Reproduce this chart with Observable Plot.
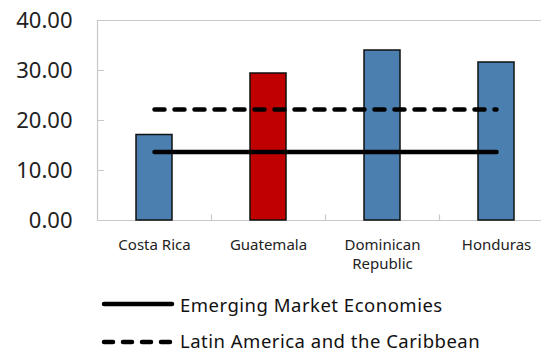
<!DOCTYPE html>
<html>
<head>
<meta charset="utf-8">
<script src="https://cdn.jsdelivr.net/npm/d3@7"></script>
<script src="https://cdn.jsdelivr.net/npm/@observablehq/plot@0.6"></script>
<style>
  html, body { margin: 0; padding: 0; background: #fff; overflow: hidden; }
  #wrap { position: relative; width: 541px; height: 352px; font-family: "Noto Sans", sans-serif; }
  #legend { position: absolute; left: 0; top: 280px; }
</style>
</head>
<body>
<div id="wrap">
  <div id="chart"></div>
  <div id="legend"></div>
</div>
<script>
const categories = ["Costa Rica", "Guatemala", "Dominican Republic", "Honduras"];
const xLabels = ["Costa Rica", "Guatemala", "Dominican\nRepublic", "Honduras"];
const values = [17.1, 29.4, 34.0, 31.6];
const barColors = ["#4A7FAF", "#C00000", "#4A7FAF", "#4A7FAF"];
const yTicks = [0, 10, 20, 30, 40];
const emeValue = 13.7;
const lacValue = 22.2;
const seriesNames = ["Emerging Market Economies", "Latin America and the Caribbean"];
const seriesDash = [null, "9,10"];

const bars = categories.map((c, i) => ({c, v: values[i], color: barColors[i]}));
const emeLine = categories.map(c => ({c, v: emeValue}));
const lacLine = categories.map(c => ({c, v: lacValue}));
const labelOf = new Map(categories.map((c, i) => [c, xLabels[i]]));

const chart = Plot.plot({
  width: 541,
  height: 278,
  marginLeft: 97,
  marginRight: 0,
  marginTop: 20,
  marginBottom: 58,
  style: {fontFamily: "Noto Sans, sans-serif", background: "#fff", overflow: "hidden"},
  x: {type: "band", domain: categories, range: [97, 553], padding: 0},
  y: {domain: [0, 40]},
  marks: [
    Plot.ruleY([40], {stroke: "#c8c8c8", strokeWidth: 1.2}),
    Plot.ruleY([0], {stroke: "#c8c8c8", strokeWidth: 1.2}),
    Plot.ruleX(categories.slice(1), {x: d => d, y1: 0, y2: 1.1, dx: -57, stroke: "#c8c8c8", strokeWidth: 1.2}),
    Plot.barY(bars, {x: "c", y: "v", fill: "color", stroke: "#111", strokeWidth: 1.5, insetLeft: 39, insetRight: 39}),
    Plot.lineY(emeLine, {x: "c", y: "v", stroke: "#000", strokeWidth: 4.5, strokeLinecap: "round"}),
    Plot.lineY(lacLine, {x: "c", y: "v", stroke: "#000", strokeWidth: 4.5, strokeLinecap: "round", strokeDasharray: "10,10"}),
    Plot.axisY({ticks: yTicks, tickSize: 0, tickPadding: 25, fontSize: 22, fill: "#222", tickFormat: d => d.toFixed(2), label: null}),
    Plot.axisY({ticks: yTicks.slice(1, -1), tickSize: 7, dx: 7, tickFormat: () => "", stroke: "#c8c8c8", label: null}),
    Plot.ruleX([0], {x: () => categories[0], y1: 0, y2: 40, dx: -57, stroke: "#c8c8c8", strokeWidth: 1.2}),
    Plot.axisX({tickSize: 0, tickPadding: 16, fontSize: 15, fill: "#222", lineHeight: 1.25, tickFormat: d => labelOf.get(d), label: null})
  ]
});
document.getElementById("chart").appendChild(chart);

// legend
const leg = d3.select("#legend").append("svg").attr("width", 541).attr("height", 72)
  .style("font-family", "Noto Sans, sans-serif");
const rows = leg.selectAll("g").data(seriesNames).join("g")
  .attr("transform", (d, i) => `translate(0,${i === 0 ? 24 : 62})`);
rows.append("line")
  .attr("x1", 104).attr("x2", (d, i) => i === 0 ? 172 : 174).attr("y1", 0).attr("y2", 0)
  .attr("stroke", "#000").attr("stroke-width", 4.5).attr("stroke-linecap", "round")
  .attr("stroke-dasharray", (d, i) => seriesDash[i]);
rows.append("text")
  .attr("x", 180).attr("y", (d, i) => i === 0 ? 8 : 6)
  .attr("font-size", 18.5).attr("letter-spacing", 0.5).attr("fill", "#111")
  .text(d => d);
</script>
</body>
</html>
